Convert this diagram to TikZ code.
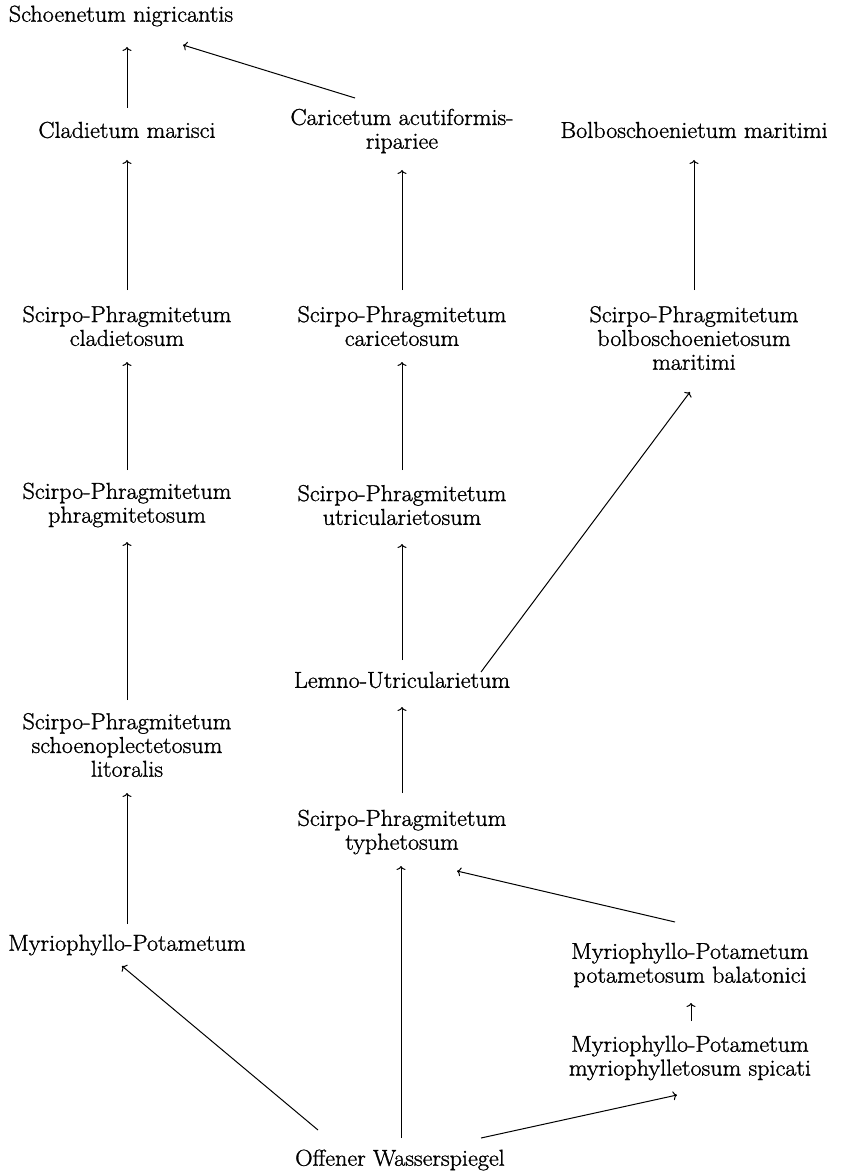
\documentclass[tikz,border=0pt]{standalone}
\usepackage{fontspec}
\newfontfamily\labfont{Latin Modern Roman}[RawFeature={embolden=1.2;extend=1.05}]
\usetikzlibrary{arrows.meta,calc}
\begin{document}
\begin{tikzpicture}[x=1pt,y=-1pt,
  lab/.style={inner sep=0pt,align=center,font=\labfont\fontsize{23}{23.8}\selectfont},
  arr/.style={line width=1pt,-{To[length=4pt,width=9pt,line width=1pt]}}]
\useasboundingbox (0,0) rectangle (840,1174);
\node[lab] (sch) at (121,16) {Schoenetum nigricantis};
\node[lab] (cla) at (127,130) {Cladietum marisci};
\node[lab] (car) at (402,131) {Caricetum acutiformis-\\ripariee};
\node[lab] (bol) at (694,130) {Bolboschoenietum maritimi};
\node[lab] (spc) at (127,326) {Scirpo-Phragmitetum\\cladietosum};
\node[lab] (spk) at (402,326) {Scirpo-Phragmitetum\\caricetosum};
\node[lab] (spb) at (694,338) {Scirpo-Phragmitetum\\bolboschoenietosum\\maritimi};
\node[lab] (spp) at (127,505) {Scirpo-Phragmitetum\\phragmitetosum};
\node[lab] (spu) at (402,505) {Scirpo-Phragmitetum\\utricularietosum};
\node[lab] (lem) at (402,680) {Lemno-Utricularietum};
\node[lab] (sps) at (127,745) {Scirpo-Phragmitetum\\schoenoplectetosum\\litoralis};
\node[lab] (spt) at (402,832) {Scirpo-Phragmitetum\\typhetosum};
\node[lab] (myr) at (127,945) {Myriophyllo-Potametum};
\node[lab] (mpb) at (690,965) {Myriophyllo-Potametum\\potametosum balatonici};
\node[lab] (mms) at (690,1058) {Myriophyllo-Potametum\\myriophylletosum spicati};
\node[lab] (off) at (400,1160) {Offener Wasserspiegel};
\draw[arr] ($(cla)+(0,-22)$) -- ($(sch)+(6,31)$);
\draw[arr] ($(car)+(-47,-33)$) -- ($(sch)+(62,29)$);
\draw[arr] ($(spc)+(0,-36)$) -- ($(cla)+(0,30)$);
\draw[arr] ($(spk)+(0,-36)$) -- ($(car)+(0,39)$);
\draw[arr] ($(spb)+(0,-48)$) -- ($(bol)+(0,30)$);
\draw[arr] ($(spp)+(0,-35)$) -- ($(spc)+(0,36)$);
\draw[arr] ($(spu)+(0,-35)$) -- ($(spk)+(0,36)$);
\draw[arr] ($(sps)+(0,-45)$) -- ($(spp)+(0,37)$);
\draw[arr] ($(lem)+(0,-20)$) -- ($(spu)+(0,39)$);
\draw[arr] ($(lem)+(79,-8)$) -- ($(spb)+(-4,54)$);
\draw[arr] ($(myr)+(0,-21)$) -- ($(sps)+(0,48)$);
\draw[arr] ($(spt)+(0,-39)$) -- ($(lem)+(0,27)$);
\draw[arr] ($(off)+(1,-22)$) -- ($(spt)+(-1,34)$);
\draw[arr] ($(off)+(-82,-30)$) -- ($(myr)+(-5,21)$);
\draw[arr] ($(off)+(81,-22)$) -- ($(mms)+(-13,37)$);
\draw[arr] ($(mpb)+(-15,-43)$) -- ($(spt)+(55,39)$);
\draw[arr] ($(mms)+(1,-37)$) -- ($(mpb)+(1,38)$);
\end{tikzpicture}
\end{document}
